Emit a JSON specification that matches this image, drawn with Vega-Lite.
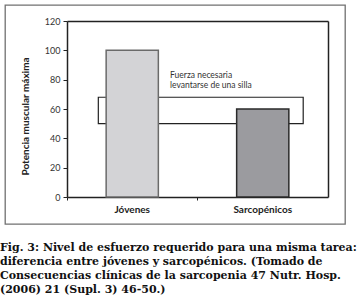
{
  "$schema": "https://vega.github.io/schema/vega-lite/v6.json",
  "width": 340,
  "height": 219,
  "autosize": {"type": "none"},
  "padding": {"left": 5, "top": 5, "right": 12, "bottom": 80},
  "background": "white",
  "config": {
    "view": {"stroke": "#707070", "strokeWidth": 1.3},
    "axis": {"grid": false}
  },
  "title": {
    "text": [
      "Fig. 3: Nivel de esfuerzo requerido para una misma tarea:",
      "diferencia entre jóvenes y sarcopénicos. (Tomado de",
      "Consecuencias clínicas de la sarcopenia 47 Nutr. Hosp.",
      "(2006) 21 (Supl. 3) 46-50.)"
    ],
    "orient": "bottom",
    "anchor": "start",
    "frame": "group",
    "dx": -5,
    "offset": 18,
    "baseline": "top",
    "font": "DejaVu Serif",
    "fontSize": 11,
    "fontWeight": "bold",
    "color": "#111111",
    "lineHeight": 14
  },
  "datasets": {
    "barras": [
      {"grupo": "Jóvenes", "potencia": 100},
      {"grupo": "Sarcopénicos", "potencia": 60}
    ],
    "banda": [
      {"desde": "Jóvenes", "hasta": "Sarcopénicos", "minimo": 50, "maximo": 68}
    ],
    "nota": [
      {"grupo": "Jóvenes", "nivel": 81, "texto": "Fuerza necesaria\nlevantarse de una silla"}
    ]
  },
  "layer": [
    {
      "data": {"name": "banda"},
      "mark": {"type": "rect", "fill": "white", "stroke": "#222222", "strokeWidth": 1.2},
      "encoding": {
        "x": {
          "field": "desde", "type": "nominal", "bandPosition": 0.24,
          "scale": {"domain": ["Jóvenes", "Sarcopénicos"], "range": [62, 323], "paddingInner": 0, "paddingOuter": 0},
          "axis": {"orient": "top", "offset": -16, "domain": true, "domainColor": "#222222", "domainWidth": 1.5, "ticks": false, "labels": false, "title": null}
        },
        "x2": {"field": "hasta", "bandPosition": 0.81},
        "y": {
          "field": "minimo", "type": "quantitative",
          "scale": {"domain": [0, 120], "range": [192, 16], "nice": false, "zero": false},
          "axis": {"orient": "right", "offset": -17, "domain": true, "domainColor": "#222222", "domainWidth": 1.5, "ticks": false, "labels": false, "title": null}
        },
        "y2": {"field": "maximo"}
      }
    },
    {
      "data": {"name": "barras"},
      "mark": {"type": "bar", "width": {"band": 0.4}, "strokeWidth": 1.5},
      "encoding": {
        "x": {
          "field": "grupo", "type": "nominal", "sort": null,
          "scale": {"domain": ["Jóvenes", "Sarcopénicos"], "range": [62, 323], "paddingInner": 0, "paddingOuter": 0},
          "axis": {
            "orient": "bottom", "offset": -27, "title": null, "labelAngle": 0,
            "labelFont": "Lato", "labelFontWeight": "bold", "labelFontSize": 10, "labelColor": "#222222",
            "labelPadding": 7, "ticks": false, "domain": true, "domainColor": "#222222", "domainWidth": 1.5
          }
        },
        "y": {
          "field": "potencia", "type": "quantitative",
          "scale": {"domain": [0, 120], "range": [192, 16], "nice": false, "zero": false},
          "axis": {
            "orient": "left", "offset": -62, "values": [0, 20, 40, 60, 80, 100, 120],
            "tickSize": 4, "tickColor": "#222222", "domainColor": "#222222", "domainWidth": 1.5,
            "labelFont": "Lato", "labelFontSize": 9, "labelColor": "#333333", "labelPadding": 3,
            "title": "Potencia muscular máxima", "titleFont": "Lato", "titleFontSize": 10,
            "titleFontWeight": "bold", "titleColor": "#222222", "titleX": -42, "titleY": 111,
            "titleBaseline": "middle", "titleAngle": -90
          }
        },
        "fill": {
          "field": "grupo", "type": "nominal",
          "scale": {"domain": ["Jóvenes", "Sarcopénicos"], "range": ["#d3d3d6", "#9b9b9f"]},
          "legend": null
        },
        "stroke": {
          "field": "grupo", "type": "nominal",
          "scale": {"domain": ["Jóvenes", "Sarcopénicos"], "range": ["#6a6a6a", "#2a2a2a"]},
          "legend": null
        }
      }
    },
    {
      "data": {"name": "nota"},
      "mark": {"type": "text", "align": "left", "baseline": "alphabetic", "lineBreak": "\n", "font": "Lato", "fontSize": 8.5, "lineHeight": 10, "color": "#333333"},
      "encoding": {
        "x": {
          "field": "grupo", "type": "nominal", "bandPosition": 0.79,
          "scale": {"domain": ["Jóvenes", "Sarcopénicos"], "range": [62, 323], "paddingInner": 0, "paddingOuter": 0},
          "axis": {"orient": "bottom", "offset": -27, "bandPosition": 0, "labels": false, "domain": false, "ticks": true, "tickSize": 3, "tickColor": "#222222", "title": null}
        },
        "y": {
          "field": "nivel", "type": "quantitative",
          "scale": {"domain": [0, 120], "range": [192, 16], "nice": false, "zero": false},
          "axis": null
        },
        "text": {"field": "texto"}
      }
    }
  ],
  "resolve": {"axis": {"x": "independent", "y": "independent"}}
}
